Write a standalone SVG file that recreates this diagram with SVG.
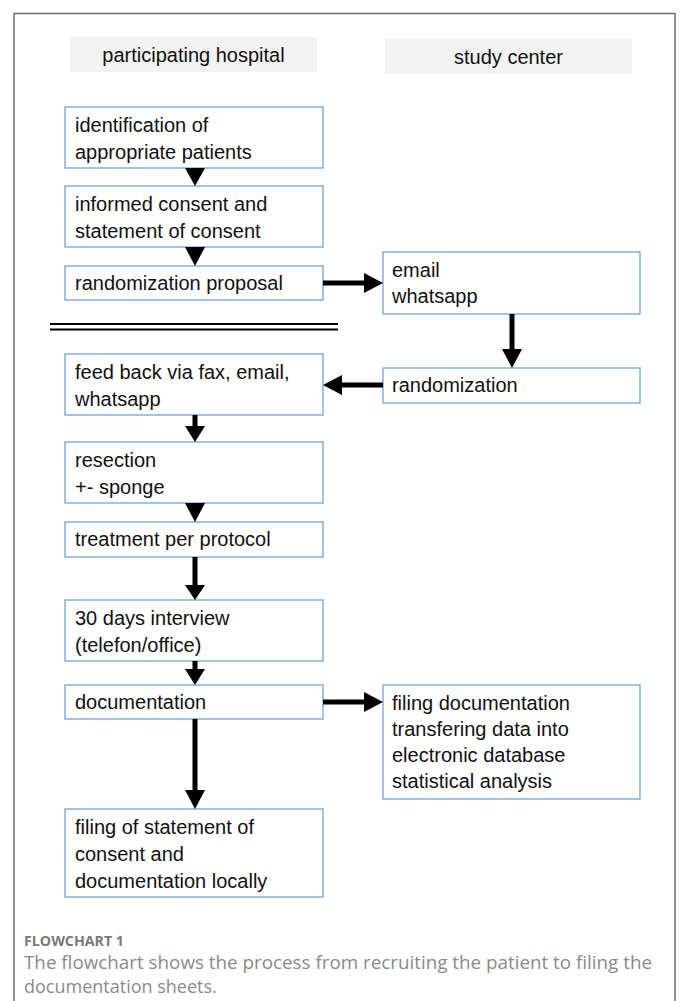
<svg xmlns="http://www.w3.org/2000/svg" width="681" height="1001" viewBox="0 0 681 1001">
<style>
.frame{fill:none;stroke:#6b6b6b;stroke-width:1.5}
.hdr{fill:#f2f2f2}
.box{fill:#fff;stroke:#6fa3dc;stroke-width:1.3}
.t{font-family:"Liberation Sans",Arial,sans-serif;font-size:20px;fill:#111}
.h{font-family:"Liberation Sans",Arial,sans-serif;font-size:20px;fill:#111;text-anchor:middle}
.shaft{stroke:#000;stroke-width:5;fill:none}
.head{fill:#000}
.cap1{font-family:"Open Sans","Liberation Sans",sans-serif;font-size:14px;font-weight:bold;fill:#7a7a7a}
.cap{font-family:"Open Sans","Liberation Sans",sans-serif;font-size:18px;fill:#8a8a8a}
</style>
<path class="frame" d="M14 1001 V13.5 H675 V1001"/>
<g id="hdr-hospital"><rect class="hdr" x="70" y="37" width="247" height="35"/><text class="h" x="193.5" y="62">participating hospital</text></g>
<g id="hdr-center"><rect class="hdr" x="385" y="39" width="247" height="35"/><text class="h" x="508.5" y="64">study center</text></g>
<g id="n1"><rect class="box" x="65" y="107" width="258" height="61"/><text class="t" x="75" y="132">identification of</text><text class="t" x="75" y="159">appropriate patients</text></g>
<g id="n2"><rect class="box" x="65" y="186" width="258" height="61"/><text class="t" x="75" y="211">informed consent and</text><text class="t" x="75" y="238">statement of consent</text></g>
<g id="n3"><rect class="box" x="65" y="266" width="258" height="34"/><text class="t" x="75" y="290">randomization proposal</text></g>
<g id="n4"><rect class="box" x="383" y="252" width="257" height="62"/><text class="t" x="392" y="277">email</text><text class="t" x="392" y="303">whatsapp</text></g>
<g id="divider"><line x1="50" y1="324" x2="338" y2="324" stroke="#000" stroke-width="2"/><line x1="50" y1="329.5" x2="338" y2="329.5" stroke="#000" stroke-width="2"/></g>
<g id="n5"><rect class="box" x="383" y="368" width="257" height="35"/><text class="t" x="392" y="392">randomization</text></g>
<g id="n6"><rect class="box" x="65" y="354" width="258" height="61"/><text class="t" x="75" y="379">feed back via fax, email,</text><text class="t" x="75" y="406">whatsapp</text></g>
<g id="n7"><rect class="box" x="65" y="442" width="258" height="61"/><text class="t" x="75" y="467">resection</text><text class="t" x="75" y="494">+- sponge</text></g>
<g id="n8"><rect class="box" x="65" y="522" width="258" height="35"/><text class="t" x="75" y="546">treatment per protocol</text></g>
<g id="n9"><rect class="box" x="65" y="600" width="258" height="61"/><text class="t" x="75" y="625">30 days interview</text><text class="t" x="75" y="652">(telefon/office)</text></g>
<g id="n10"><rect class="box" x="65" y="685" width="258" height="34"/><text class="t" x="75" y="709">documentation</text></g>
<g id="n11"><rect class="box" x="383" y="685" width="257" height="114"/><text class="t" x="392" y="710">filing documentation</text><text class="t" x="392" y="736">transfering data into</text><text class="t" x="392" y="762">electronic database</text><text class="t" x="392" y="788">statistical analysis</text></g>
<g id="n12"><rect class="box" x="65" y="809" width="258" height="88"/><text class="t" x="75" y="834">filing of statement of</text><text class="t" x="75" y="861">consent and</text><text class="t" x="75" y="888">documentation locally</text></g>
<g id="connectors">
<polygon class="head" points="185,168 205,168 195,186"/>
<polygon class="head" points="185,247 205,247 195,266"/>
<line class="shaft" x1="323" y1="283" x2="366" y2="283"/><polygon class="head" points="364,273 383,283 364,293"/>
<line class="shaft" x1="512" y1="314" x2="512" y2="351"/><polygon class="head" points="502,349 522,349 512,368"/>
<line class="shaft" x1="383" y1="385" x2="340" y2="385"/><polygon class="head" points="342,375 323,385 342,395"/>
<line class="shaft" x1="195" y1="415" x2="195" y2="428"/><polygon class="head" points="185,426 205,426 195,442"/>
<polygon class="head" points="185,503 205,503 195,522"/>
<line class="shaft" x1="195" y1="557" x2="195" y2="587"/><polygon class="head" points="185,585 205,585 195,600"/>
<line class="shaft" x1="195" y1="661" x2="195" y2="672"/><polygon class="head" points="185,669 205,669 195,685"/>
<line class="shaft" x1="323" y1="702" x2="366" y2="702"/><polygon class="head" points="364,692 383,702 364,712"/>
<line class="shaft" x1="195" y1="719" x2="195" y2="792"/><polygon class="head" points="185,790 205,790 195,809"/>
</g>
<g id="caption"><text class="cap1" x="24" y="946" textLength="100" lengthAdjust="spacingAndGlyphs">FLOWCHART 1</text><text class="cap" x="24" y="969" textLength="628" lengthAdjust="spacingAndGlyphs">The flowchart shows the process from recruiting the patient to filing the</text><text class="cap" x="24" y="993">documentation sheets.</text></g>
</svg>
